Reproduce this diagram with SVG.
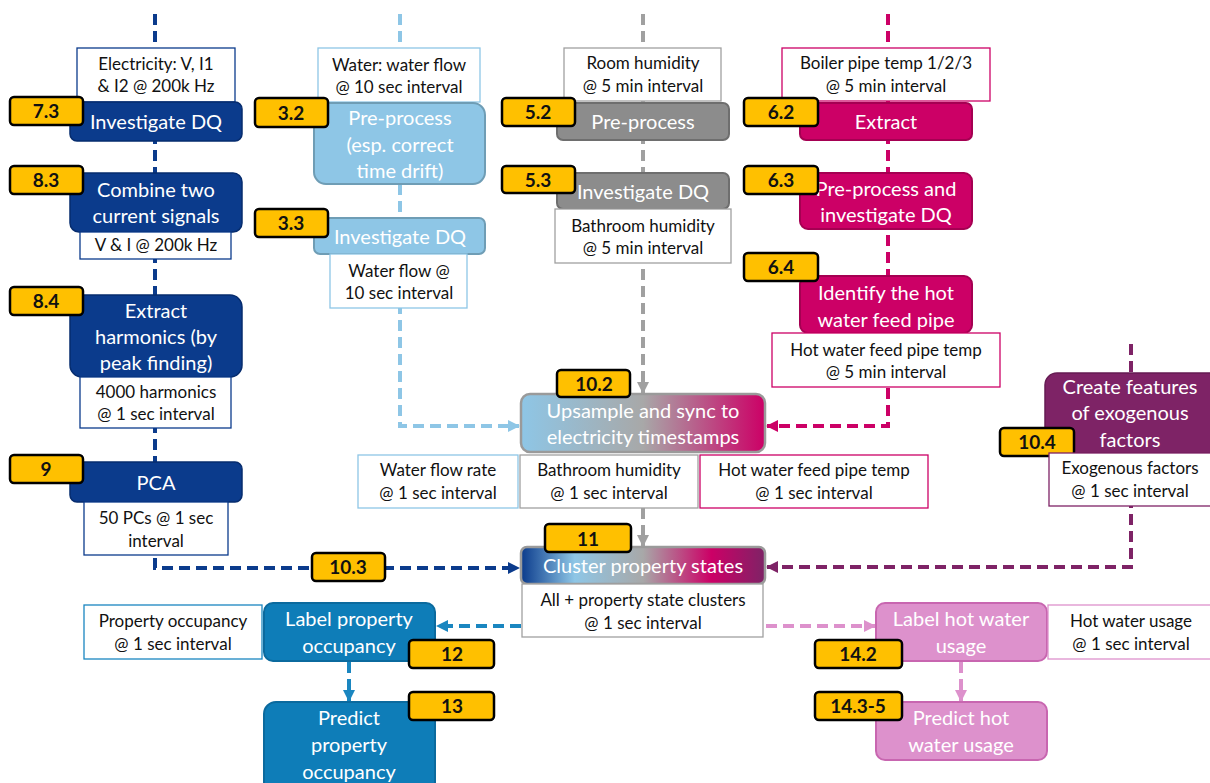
<svg xmlns="http://www.w3.org/2000/svg" width="1210" height="783" viewBox="0 0 1210 783">
<style>
text{font-family:Lato,"Liberation Sans",sans-serif;text-anchor:middle}
.nt{fill:#fff;font-size:20px}
.bt{fill:#111;font-size:17px}
.bd{fill:#111;font-size:19px;font-weight:bold}
.badge{fill:#FFC000;stroke:#000;stroke-width:2.5}
.box{fill:#fff;stroke-width:1.3}
.c{fill:none;stroke-width:4;stroke-dasharray:11 6}
</style>
<defs>
<linearGradient id="g102" x1="0" x2="1" y1="0" y2="0">
<stop offset="0" stop-color="#8EC6E6"/><stop offset="0.5" stop-color="#A8A8A8"/><stop offset="1" stop-color="#CC0066"/>
</linearGradient>
<linearGradient id="g11" x1="0" x2="1" y1="0" y2="0">
<stop offset="0" stop-color="#0B3B8C"/><stop offset="0.22" stop-color="#8EC6E6"/><stop offset="0.5" stop-color="#A8A8A8"/><stop offset="0.78" stop-color="#CC0066"/><stop offset="1" stop-color="#7E2366"/>
</linearGradient>
<marker id="aDB" markerUnits="userSpaceOnUse" markerWidth="12" markerHeight="12" refX="11" refY="6" orient="auto"><path d="M0,0 L12,6 L0,12 z" fill="#0B3B8C"/></marker>
<marker id="aLB" markerUnits="userSpaceOnUse" markerWidth="12" markerHeight="12" refX="11" refY="6" orient="auto"><path d="M0,0 L12,6 L0,12 z" fill="#8EC6E6"/></marker>
<marker id="aGR" markerUnits="userSpaceOnUse" markerWidth="12" markerHeight="12" refX="11" refY="6" orient="auto"><path d="M0,0 L12,6 L0,12 z" fill="#A0A0A0"/></marker>
<marker id="aMG" markerUnits="userSpaceOnUse" markerWidth="12" markerHeight="12" refX="11" refY="6" orient="auto"><path d="M0,0 L12,6 L0,12 z" fill="#CC0066"/></marker>
<marker id="aPU" markerUnits="userSpaceOnUse" markerWidth="12" markerHeight="12" refX="11" refY="6" orient="auto"><path d="M0,0 L12,6 L0,12 z" fill="#7E2366"/></marker>
<marker id="aOB" markerUnits="userSpaceOnUse" markerWidth="12" markerHeight="12" refX="11" refY="6" orient="auto"><path d="M0,0 L12,6 L0,12 z" fill="#1A86C0"/></marker>
<marker id="aPK" markerUnits="userSpaceOnUse" markerWidth="12" markerHeight="12" refX="11" refY="6" orient="auto"><path d="M0,0 L12,6 L0,12 z" fill="#DD91CC"/></marker>
</defs>
<rect width="1210" height="783" fill="#fff"/>
<g id="connectors">
<path class="c" stroke="#0B3B8C" d="M155,14 V568 H519" marker-end="url(#aDB)"/>
<path class="c" stroke="#8EC6E6" d="M400,14 V426 H519" marker-end="url(#aLB)"/>
<path class="c" stroke="#A0A0A0" d="M643,14 V393" marker-end="url(#aGR)"/>
<path class="c" stroke="#CC0066" d="M888,14 V426 H767" marker-end="url(#aMG)"/>
<path class="c" stroke="#7E2366" d="M1131,344 V567 H767" marker-end="url(#aPU)"/>
<path class="c" stroke="#A0A0A0" d="M643,508 V546" marker-end="url(#aGR)"/>
<path class="c" stroke="#1A86C0" d="M521,626 H437" marker-end="url(#aOB)"/>
<path class="c" stroke="#1A86C0" d="M349,662 V701" marker-end="url(#aOB)"/>
<path class="c" stroke="#DD91CC" d="M766,626 H875" marker-end="url(#aPK)"/>
<path class="c" stroke="#DD91CC" d="M961,662 V701" marker-end="url(#aPK)"/>
</g>
<!-- Column 1 -->
<g id="elec-data"><rect class="box" stroke="#0B3B8C" x="77" y="48" width="158" height="54"/><text class="bt" x="156" y="70">Electricity: V, I1</text><text class="bt" x="156" y="92">&amp; I2 @ 200k Hz</text></g>
<g id="n73"><rect x="70" y="102" width="172" height="39" rx="7" fill="#0B3B8C" stroke="#062C6E" stroke-width="1.5"/><text class="nt" x="156" y="129">Investigate DQ</text><rect class="badge" x="10" y="97" width="73" height="28" rx="4"/><text class="bd" x="46" y="118">7.3</text></g>
<g id="n83"><rect x="70" y="173" width="172" height="59" rx="9" fill="#0B3B8C" stroke="#062C6E" stroke-width="1.5"/><text class="nt" x="156" y="197">Combine two</text><text class="nt" x="156" y="223">current signals</text><rect class="badge" x="10" y="166" width="73" height="28" rx="4"/><text class="bd" x="46" y="187">8.3</text></g>
<g id="vi-data"><rect class="box" stroke="#0B3B8C" x="80" y="232" width="151" height="27"/><text class="bt" x="156" y="251">V &amp; I @ 200k Hz</text></g>
<g id="n84"><rect x="70" y="295" width="172" height="82" rx="12" fill="#0B3B8C" stroke="#062C6E" stroke-width="1.5"/><text class="nt" x="156" y="318">Extract</text><text class="nt" x="156" y="344">harmonics (by</text><text class="nt" x="156" y="370">peak finding)</text><rect class="badge" x="10" y="287" width="73" height="28" rx="4"/><text class="bd" x="46" y="308">8.4</text></g>
<g id="harm-data"><rect class="box" stroke="#0B3B8C" x="80" y="377" width="151" height="51"/><text class="bt" x="156" y="398">4000 harmonics</text><text class="bt" x="156" y="420">@ 1 sec interval</text></g>
<g id="n9"><rect x="70" y="462" width="172" height="40" rx="7" fill="#0B3B8C" stroke="#062C6E" stroke-width="1.5"/><text class="nt" x="156" y="490">PCA</text><rect class="badge" x="10" y="455" width="73" height="28" rx="4"/><text class="bd" x="46" y="476">9</text></g>
<g id="pc-data"><rect class="box" stroke="#0B3B8C" x="84" y="502" width="144" height="53"/><text class="bt" x="156" y="524">50 PCs @ 1 sec</text><text class="bt" x="156" y="547">interval</text></g>
<g id="b103"><rect class="badge" x="312" y="553" width="73" height="28" rx="4"/><text class="bd" x="348" y="574">10.3</text></g>
<!-- Column 2 -->
<g id="water-data"><rect class="box" stroke="#8EC6E6" x="318" y="48" width="162" height="54"/><text class="bt" x="399" y="71">Water: water flow</text><text class="bt" x="399" y="93">@ 10 sec interval</text></g>
<g id="n32"><rect x="314" y="103" width="171" height="81" rx="12" fill="#8EC6E6" stroke="#6F9DB5" stroke-width="2"/><text class="nt" x="400" y="125">Pre-process</text><text class="nt" x="400" y="152">(esp. correct</text><text class="nt" x="400" y="178">time drift)</text><rect class="badge" x="255" y="98" width="73" height="29" rx="4"/><text class="bd" x="291" y="120">3.2</text></g>
<g id="n33"><rect x="314" y="218" width="171" height="36" rx="6" fill="#8EC6E6" stroke="#6F9DB5" stroke-width="2"/><text class="nt" x="400" y="244">Investigate DQ</text><rect class="badge" x="255" y="209" width="73" height="28" rx="4"/><text class="bd" x="291" y="230">3.3</text></g>
<g id="wf-data"><rect class="box" stroke="#8EC6E6" x="330" y="254" width="137" height="54"/><text class="bt" x="399" y="277">Water flow @</text><text class="bt" x="399" y="299">10 sec interval</text></g>
<!-- Column 3 -->
<g id="rh-data"><rect class="box" stroke="#A0A0A0" x="564" y="48" width="157" height="53"/><text class="bt" x="643" y="69">Room humidity</text><text class="bt" x="643" y="92">@ 5 min interval</text></g>
<g id="n52"><rect x="557" y="103" width="172" height="37" rx="6" fill="#8C8C8C" stroke="#6E6E6E" stroke-width="2"/><text class="nt" x="643" y="129">Pre-process</text><rect class="badge" x="502" y="98" width="73" height="28" rx="4"/><text class="bd" x="538" y="119">5.2</text></g>
<g id="n53"><rect x="557" y="173" width="172" height="36" rx="6" fill="#8C8C8C" stroke="#6E6E6E" stroke-width="2"/><text class="nt" x="643" y="199">Investigate DQ</text><rect class="badge" x="502" y="166" width="73" height="27" rx="4"/><text class="bd" x="538" y="187">5.3</text></g>
<g id="bh-data"><rect class="box" stroke="#A0A0A0" x="555" y="209" width="176" height="54"/><text class="bt" x="643" y="232">Bathroom humidity</text><text class="bt" x="643" y="254">@ 5 min interval</text></g>
<!-- Column 4 -->
<g id="boiler-data"><rect class="box" stroke="#CC0066" x="782" y="48" width="208" height="53"/><text class="bt" x="886" y="69">Boiler pipe temp 1/2/3</text><text class="bt" x="886" y="92">@ 5 min interval</text></g>
<g id="n62"><rect x="800" y="103" width="172" height="37" rx="6" fill="#CC0066" stroke="#A50052" stroke-width="2"/><text class="nt" x="886" y="129">Extract</text><rect class="badge" x="744" y="98" width="74" height="28" rx="4"/><text class="bd" x="781" y="119">6.2</text></g>
<g id="n63"><rect x="800" y="173" width="172" height="56" rx="8" fill="#CC0066" stroke="#A50052" stroke-width="2"/><text class="nt" x="886" y="196">Pre-process and</text><text class="nt" x="886" y="222">investigate DQ</text><rect class="badge" x="744" y="166" width="74" height="28" rx="4"/><text class="bd" x="781" y="187">6.3</text></g>
<g id="n64"><rect x="800" y="276" width="172" height="57" rx="8" fill="#CC0066" stroke="#A50052" stroke-width="2"/><text class="nt" x="886" y="300">Identify the hot</text><text class="nt" x="886" y="327">water feed pipe</text><rect class="badge" x="744" y="253" width="74" height="28" rx="4"/><text class="bd" x="781" y="274">6.4</text></g>
<g id="hw-data"><rect class="box" stroke="#CC0066" x="772" y="333" width="228" height="54"/><text class="bt" x="886" y="356">Hot water feed pipe temp</text><text class="bt" x="886" y="378">@ 5 min interval</text></g>
<!-- Center -->
<g id="n102"><rect x="521" y="394" width="244" height="58" rx="9" fill="url(#g102)" stroke="#9A9A9A" stroke-width="2.5"/><text class="nt" x="643" y="418">Upsample and sync to</text><text class="nt" x="643" y="444">electricity timestamps</text><rect class="badge" x="557" y="370" width="73" height="27" rx="4"/><text class="bd" x="594" y="391">10.2</text></g>
<g id="wfr-data"><rect class="box" stroke="#8EC6E6" x="358" y="455" width="160" height="53"/><text class="bt" x="438" y="476">Water flow rate</text><text class="bt" x="438" y="499">@ 1 sec interval</text></g>
<g id="bh1-data"><rect class="box" stroke="#A0A0A0" x="520" y="455" width="178" height="53"/><text class="bt" x="609" y="476">Bathroom humidity</text><text class="bt" x="609" y="499">@ 1 sec interval</text></g>
<g id="hw1-data"><rect class="box" stroke="#CC0066" x="700" y="455" width="228" height="53"/><text class="bt" x="814" y="476">Hot water feed pipe temp</text><text class="bt" x="814" y="499">@ 1 sec interval</text></g>
<g id="n11"><rect x="521" y="547" width="244" height="37" rx="6" fill="url(#g11)" stroke="#9A9A9A" stroke-width="2.5"/><text class="nt" x="643" y="573">Cluster property states</text><rect class="badge" x="545" y="524" width="86" height="28" rx="4"/><text class="bd" x="588" y="546">11</text></g>
<g id="all-data"><rect class="box" stroke="#A0A0A0" x="522" y="584" width="241" height="53"/><text class="bt" x="643" y="606">All + property state clusters</text><text class="bt" x="643" y="629">@ 1 sec interval</text></g>
<!-- Right -->
<g id="n104"><rect x="1045" y="373" width="180" height="80" rx="12" fill="#7E2366" stroke="#661B53" stroke-width="1.5"/><text class="nt" x="1130" y="394">Create features</text><text class="nt" x="1130" y="420">of exogenous</text><text class="nt" x="1130" y="447">factors</text><rect class="badge" x="1000" y="428" width="74" height="28" rx="4"/><text class="bd" x="1037" y="449">10.4</text></g>
<g id="exo-data"><rect class="box" stroke="#7E2366" x="1049" y="453" width="170" height="53"/><text class="bt" x="1130" y="474">Exogenous factors</text><text class="bt" x="1130" y="497">@ 1 sec interval</text></g>
<!-- Bottom left -->
<g id="occ-data"><rect class="box" stroke="#1A86C0" x="84" y="605" width="178" height="54"/><text class="bt" x="173" y="627">Property occupancy</text><text class="bt" x="173" y="650">@ 1 sec interval</text></g>
<g id="n12"><rect x="264" y="603" width="171" height="58" rx="9" fill="#0E7DB8" stroke="#0B6A9E" stroke-width="2"/><text class="nt" x="349" y="626">Label property</text><text class="nt" x="349" y="653">occupancy</text><rect class="badge" x="409" y="640" width="85" height="28" rx="4"/><text class="bd" x="452" y="661">12</text></g>
<g id="n13"><rect x="264" y="702" width="171" height="92" rx="12" fill="#0E7DB8" stroke="#0B6A9E" stroke-width="2"/><text class="nt" x="349" y="725">Predict</text><text class="nt" x="349" y="752">property</text><text class="nt" x="349" y="779">occupancy</text><rect class="badge" x="409" y="692" width="85" height="28" rx="4"/><text class="bd" x="452" y="713">13</text></g>
<!-- Bottom right -->
<g id="n142"><rect x="876" y="603" width="171" height="58" rx="9" fill="#DD91CC" stroke="#C866B0" stroke-width="2"/><text class="nt" x="961" y="626">Label hot water</text><text class="nt" x="961" y="653">usage</text><rect class="badge" x="815" y="640" width="87" height="28" rx="4"/><text class="bd" x="858" y="661">14.2</text></g>
<g id="hwu-data"><rect class="box" stroke="#DD91CC" x="1048" y="605" width="170" height="54"/><text class="bt" x="1131" y="627">Hot water usage</text><text class="bt" x="1131" y="650">@ 1 sec interval</text></g>
<g id="n143"><rect x="876" y="702" width="171" height="58" rx="9" fill="#DD91CC" stroke="#C866B0" stroke-width="2"/><text class="nt" x="961" y="725">Predict hot</text><text class="nt" x="961" y="752">water usage</text><rect class="badge" x="815" y="692" width="87" height="28" rx="4"/><text class="bd" x="858" y="713">14.3-5</text></g>
</svg>
